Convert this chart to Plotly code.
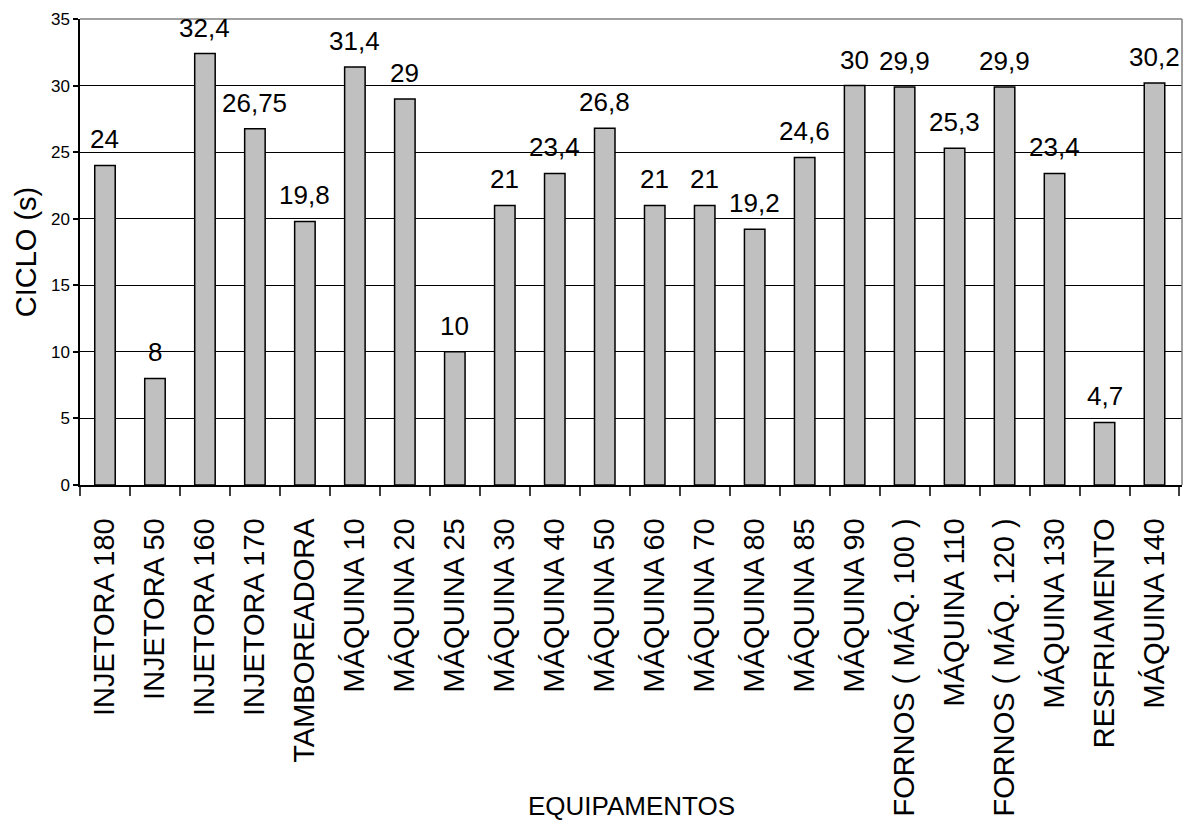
import plotly.graph_objects as go

categories = ["INJETORA 180", "INJETORA 50", "INJETORA 160", "INJETORA 170", "TAMBOREADORA",
              "MÁQUINA 10", "MÁQUINA 20", "MÁQUINA 25", "MÁQUINA 30", "MÁQUINA 40",
              "MÁQUINA 50", "MÁQUINA 60", "MÁQUINA 70", "MÁQUINA 80", "MÁQUINA 85",
              "MÁQUINA 90", "FORNOS ( MÁQ. 100 )", "MÁQUINA 110", "FORNOS ( MÁQ. 120 )",
              "MÁQUINA 130", "RESFRIAMENTO", "MÁQUINA 140"]
values = [24, 8, 32.4, 26.75, 19.8, 31.4, 29, 10, 21, 23.4, 26.8, 21, 21, 19.2, 24.6,
          30, 29.9, 25.3, 29.9, 23.4, 4.7, 30.2]
labels = ["24", "8", "32,4", "26,75", "19,8", "31,4", "29", "10", "21", "23,4", "26,8",
          "21", "21", "19,2", "24,6", "30", "29,9", "25,3", "29,9", "23,4", "4,7", "30,2"]
y_ticks = [0, 5, 10, 15, 20, 25, 30, 35]

FONT = "Liberation Sans, Arial, sans-serif"

fig = go.Figure()
fig.add_trace(go.Bar(
    x=categories, y=values,
    marker=dict(color="#C0C0C0", line=dict(color="black", width=1.5)),
    showlegend=False, hoverinfo="x+y",
))

for c, v, t in zip(categories, values, labels):
    fig.add_annotation(x=c, y=v, text=t, showarrow=False, yanchor="bottom",
                       yshift=9, font=dict(family=FONT, size=26, color="black"))

fig.add_annotation(x=0.5, y=-0.689, xref="paper", yref="paper", text="EQUIPAMENTOS",
                   showarrow=False, yanchor="middle", xanchor="center",
                   font=dict(family=FONT, size=26, color="black"))

# plot-area border (top and right) in grey
fig.add_shape(type="line", xref="paper", yref="paper", x0=0, x1=1, y0=1, y1=1,
              line=dict(color="#808080", width=1.5), layer="above")
fig.add_shape(type="line", xref="paper", yref="paper", x0=1, x1=1, y0=0, y1=1,
              line=dict(color="#808080", width=1.5), layer="above")

fig.update_layout(
    width=1186, height=825,
    margin=dict(l=80, r=4, t=19, b=340),
    paper_bgcolor="white", plot_bgcolor="white",
    bargap=0.59,
    font=dict(family=FONT, color="black"),
    xaxis=dict(
        type="category", tickangle=-90, tickfont=dict(family=FONT, size=29, color="black"),
        showline=True, linecolor="black", linewidth=1.5,
        ticks="outside", tickson="boundaries", ticklen=9, tickcolor="#404040", tickwidth=1.5,
        showgrid=False, automargin=False, ticklabelstandoff=20,
    ),
    yaxis=dict(
        range=[0, 35], tickvals=y_ticks, ticktext=[str(v) for v in y_ticks],
        tickfont=dict(family=FONT, size=17, color="black"),
        showline=True, linecolor="black", linewidth=1.5,
        ticks="outside", ticklen=5, tickcolor="black", tickwidth=1.5,
        showgrid=True, gridcolor="black", gridwidth=1, zeroline=False,
        title=dict(text="CICLO (s)", font=dict(family=FONT, size=29, color="black"), standoff=6),
        automargin=False,
    ),
)

fig.write_html("out.html", config={"displayModeBar": False},
               post_script="document.body.style.margin='0';")
